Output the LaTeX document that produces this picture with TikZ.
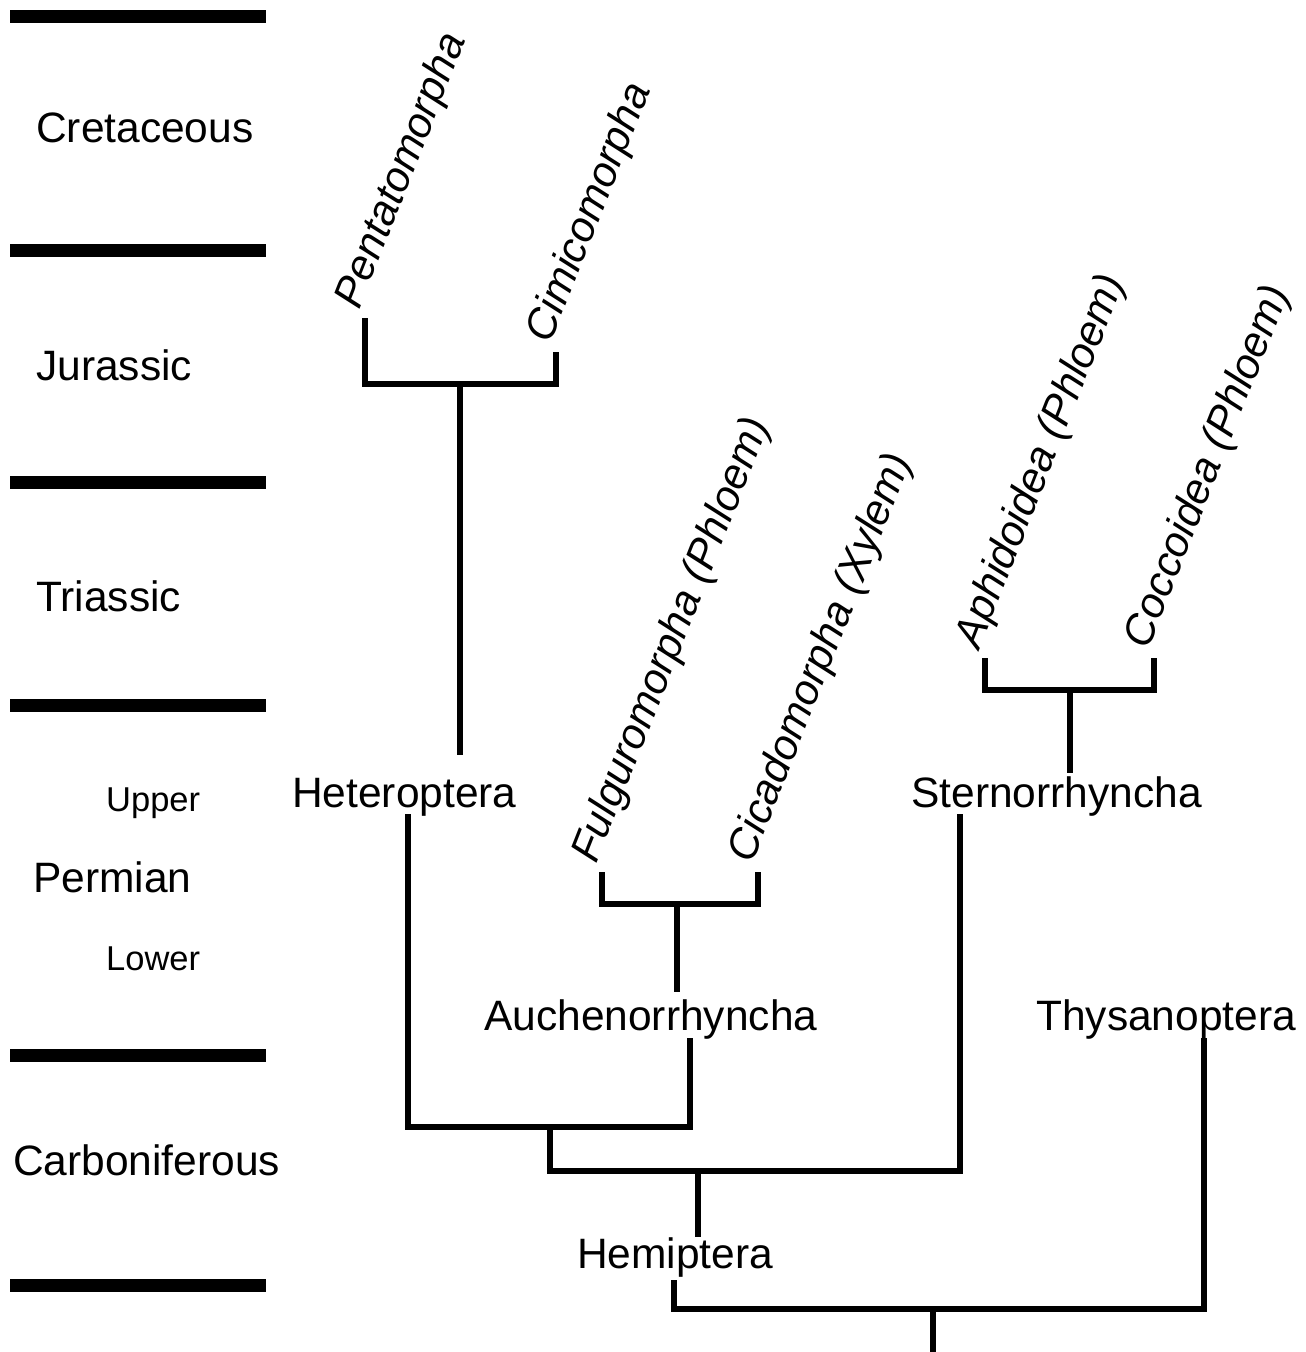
\documentclass[tikz,border=0pt]{standalone}
\usepackage{fontspec}
\setmainfont{Liberation Sans}
\tikzset{
  eraline/.style={line width=13pt,draw=black},
  branch/.style={line width=6.5pt,draw=black},
  era/.style={font=\fontsize{42.5}{51}\selectfont,anchor=base west,inner sep=0pt},
  subera/.style={font=\fontsize{34.5}{41}\selectfont,anchor=base west,inner sep=0pt},
  taxon/.style={font=\fontsize{42.5}{51}\selectfont,anchor=base west,inner sep=0pt},
  clade/.style={font=\fontsize{42.5}{51}\selectfont\itshape,anchor=base west,inner sep=0pt,
    rotate=68.5,xshift=5pt,yshift=8pt}
}
\begin{document}
\begin{tikzpicture}[x=1pt,y=-1pt]
  \useasboundingbox (0,0) rectangle (1306,1352);

  % time scale
  \foreach \y in {16,250,482,705,1055,1285}
    \draw[eraline] (10,\y) -- (266,\y);
  \node[era] (cret) at (36,142) {Cretaceous};
  \node[era] (jura) at (36,380) {Jurassic};
  \node[era] (tria) at (36,611) {Triassic};
  \node[subera] (upper) at (106,811) {Upper};
  \node[era] (perm) at (33,892) {Permian};
  \node[subera] (lower) at (106,970) {Lower};
  \node[era] (carb) at (13,1175) {Carboniferous};

  % branch ends and joints
  \coordinate (pentTop) at (365,318);
  \coordinate (cimiTop) at (556,352);
  \coordinate (pcJ) at (460,384);
  \coordinate (hetTop) at (460,755);
  \coordinate (fulgTop) at (602,872);
  \coordinate (cicaTop) at (758,872);
  \coordinate (fcJ) at (677,904);
  \coordinate (aucTop) at (677,992);
  \coordinate (aphiTop) at (985,658);
  \coordinate (coccTop) at (1154,658);
  \coordinate (acJ) at (1070,690);
  \coordinate (sterTop) at (1070,773);
  \coordinate (hetBot) at (408,814);
  \coordinate (aucBot) at (690,1038);
  \coordinate (haJ) at (550,1127);
  \coordinate (sterBot) at (960,814);
  \coordinate (hsJ) at (698,1171);
  \coordinate (hemTop) at (698,1237);
  \coordinate (hemBot) at (674,1280);
  \coordinate (thyBot) at (1204,1038);
  \coordinate (rootJ) at (933,1309);
  \coordinate (root) at (933,1352);

  % taxa
  \node[clade] (pent) at (pentTop) {Pentatomorpha};
  \node[clade] (cimi) at (cimiTop) {Cimicomorpha};
  \node[clade] (fulg) at (fulgTop) {Fulguromorpha (Phloem)};
  \node[clade] (cica) at (cicaTop) {Cicadomorpha (Xylem)};
  \node[clade] (aphi) at (aphiTop) {Aphidoidea (Phloem)};
  \node[clade] (cocc) at (coccTop) {Coccoidea (Phloem)};
  \node[taxon] (het) at (292,807) {Heteroptera};
  \node[taxon] (ster) at (911,807) {Sternorrhyncha};
  \node[taxon] (auc) at (484,1030) {Auchenorrhyncha};
  \node[taxon] (thy) at (1036,1030) {Thysanoptera};
  \node[taxon] (hem) at (577,1268) {Hemiptera};

  % tree
  \draw[branch] (pentTop) |- (pcJ) -| (cimiTop);
  \draw[branch] (pcJ) -- (hetTop);
  \draw[branch] (fulgTop) |- (fcJ) -| (cicaTop);
  \draw[branch] (fcJ) -- (aucTop);
  \draw[branch] (aphiTop) |- (acJ) -| (coccTop);
  \draw[branch] (acJ) -- (sterTop);
  \draw[branch] (hetBot) |- (haJ) -| (aucBot);
  \draw[branch] (haJ) |- (hsJ) -| (sterBot);
  \draw[branch] (hsJ) -- (hemTop);
  \draw[branch] (hemBot) |- (rootJ) -| (thyBot);
  \draw[branch] (rootJ) -- (root);
\end{tikzpicture}
\end{document}
